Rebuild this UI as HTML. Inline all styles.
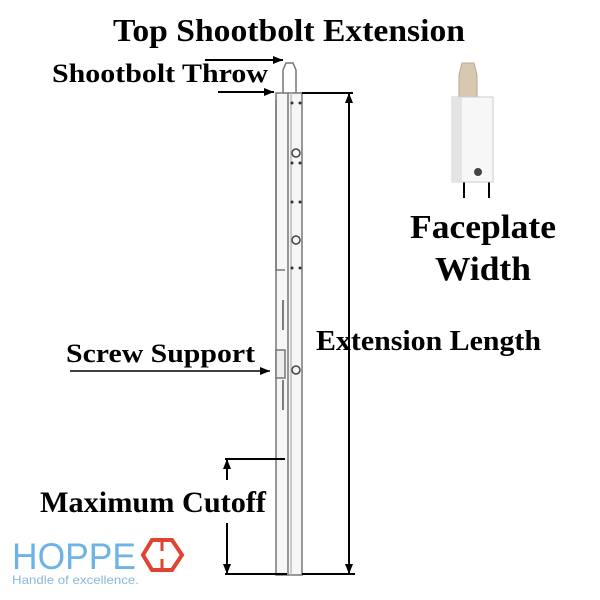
<!DOCTYPE html>
<html><head><style>body{margin:0;background:#fff}svg{display:block}</style></head><body>
<svg width="600" height="600" viewBox="0 0 600 600" xmlns="http://www.w3.org/2000/svg">
<defs><marker id="a" markerWidth="10" markerHeight="8" refX="10" refY="4" orient="auto" markerUnits="userSpaceOnUse"><path d="M0,0L10,4L0,8z" fill="#000"/></marker></defs>
<g font-family="Liberation Serif, serif" font-weight="bold" fill="#000">
<text x="113" y="41" font-size="32" textLength="352" lengthAdjust="spacingAndGlyphs">Top Shootbolt Extension</text>
<text x="52" y="82" font-size="26" textLength="216" lengthAdjust="spacingAndGlyphs">Shootbolt Throw</text>
<text x="66" y="362" font-size="26" textLength="189" lengthAdjust="spacingAndGlyphs">Screw Support</text>
<text x="316" y="350" font-size="28" textLength="225" lengthAdjust="spacingAndGlyphs">Extension Length</text>
<text x="410" y="238" font-size="34" textLength="146" lengthAdjust="spacingAndGlyphs">Faceplate</text>
<text x="435" y="280" font-size="34" textLength="96" lengthAdjust="spacingAndGlyphs">Width</text>
<text x="40" y="512" font-size="30" textLength="226" lengthAdjust="spacingAndGlyphs">Maximum Cutoff</text>
</g>
<g stroke="#777" fill="none" stroke-width="1.5">
<path d="M283,93 V70 L286,63 H293 L296,70 V93"/>
<rect x="276" y="93" width="26" height="482" fill="#f6f6f6"/>
<line x1="288" y1="93" x2="288" y2="575"/>
<line x1="291" y1="93" x2="291" y2="575" stroke="#bbb"/>
<path d="M276,100 V270 H285" />
<path d="M283,300 V330" stroke="#555"/>
<rect x="276" y="350" width="9" height="28" fill="#eee"/>
<path d="M283,380 V410" stroke="#555"/>
</g>
<g fill="#333">
<circle cx="292" cy="103" r="1.5"/><circle cx="300" cy="103" r="1.5"/>
<circle cx="292" cy="163" r="1.5"/><circle cx="300" cy="163" r="1.5"/>
<circle cx="292" cy="202" r="1.5"/><circle cx="300" cy="202" r="1.5"/>
<circle cx="292" cy="268" r="1.5"/><circle cx="300" cy="268" r="1.5"/>
</g>
<g fill="none" stroke="#444" stroke-width="1.5">
<circle cx="296" cy="153" r="4"/><circle cx="296" cy="240" r="4"/><circle cx="296" cy="370" r="4"/>
</g>
<g stroke="#000" stroke-width="2" fill="none">
<line x1="205" y1="60" x2="283" y2="60" marker-end="url(#a)"/>
<line x1="218" y1="92" x2="274" y2="92" marker-end="url(#a)"/>
<line x1="70" y1="371" x2="270" y2="371" marker-end="url(#a)" stroke-width="1.5"/>
<line x1="302" y1="93" x2="353" y2="93"/>
<line x1="302" y1="574" x2="355" y2="574"/>
<line x1="349" y1="105" x2="349" y2="93" marker-end="url(#a)"/>
<line x1="349" y1="105" x2="349" y2="574" marker-end="url(#a)"/>
<line x1="225" y1="459" x2="285" y2="459"/>
<line x1="225" y1="574" x2="287" y2="574"/>
<line x1="227" y1="480" x2="227" y2="459" marker-end="url(#a)"/>
<line x1="227" y1="523" x2="227" y2="574" marker-end="url(#a)"/>
<line x1="464" y1="182" x2="464" y2="198"/>
<line x1="489" y1="182" x2="489" y2="198"/>
</g>
<path d="M462,63 H474 L477,75 V98 H459 V75 Z" fill="#d8c8b0" stroke="#b8a88e"/>
<rect x="452" y="97" width="41" height="85" fill="#f7f7f7" stroke="#ccc"/>
<rect x="452" y="97" width="10" height="85" fill="#e4e4e4"/>
<circle cx="478" cy="172" r="4" fill="#444"/>
<text x="12" y="569" font-family="Liberation Sans, sans-serif" font-size="37" fill="#6db3e6" textLength="124" lengthAdjust="spacingAndGlyphs">HOPPE</text>
<text x="12" y="584" font-family="Liberation Sans, sans-serif" font-size="12" fill="#8ab8d8" textLength="127" lengthAdjust="spacingAndGlyphs">Handle of excellence.</text>
<path d="M152,540 H172 L182,555 L172,570 H152 L143,555 Z" fill="none" stroke="#e0432f" stroke-width="4"/>
<line x1="162" y1="540" x2="162" y2="551" stroke="#e0432f" stroke-width="3"/>
<line x1="162" y1="559" x2="162" y2="570" stroke="#e0432f" stroke-width="3"/>
</svg>
</body></html>
